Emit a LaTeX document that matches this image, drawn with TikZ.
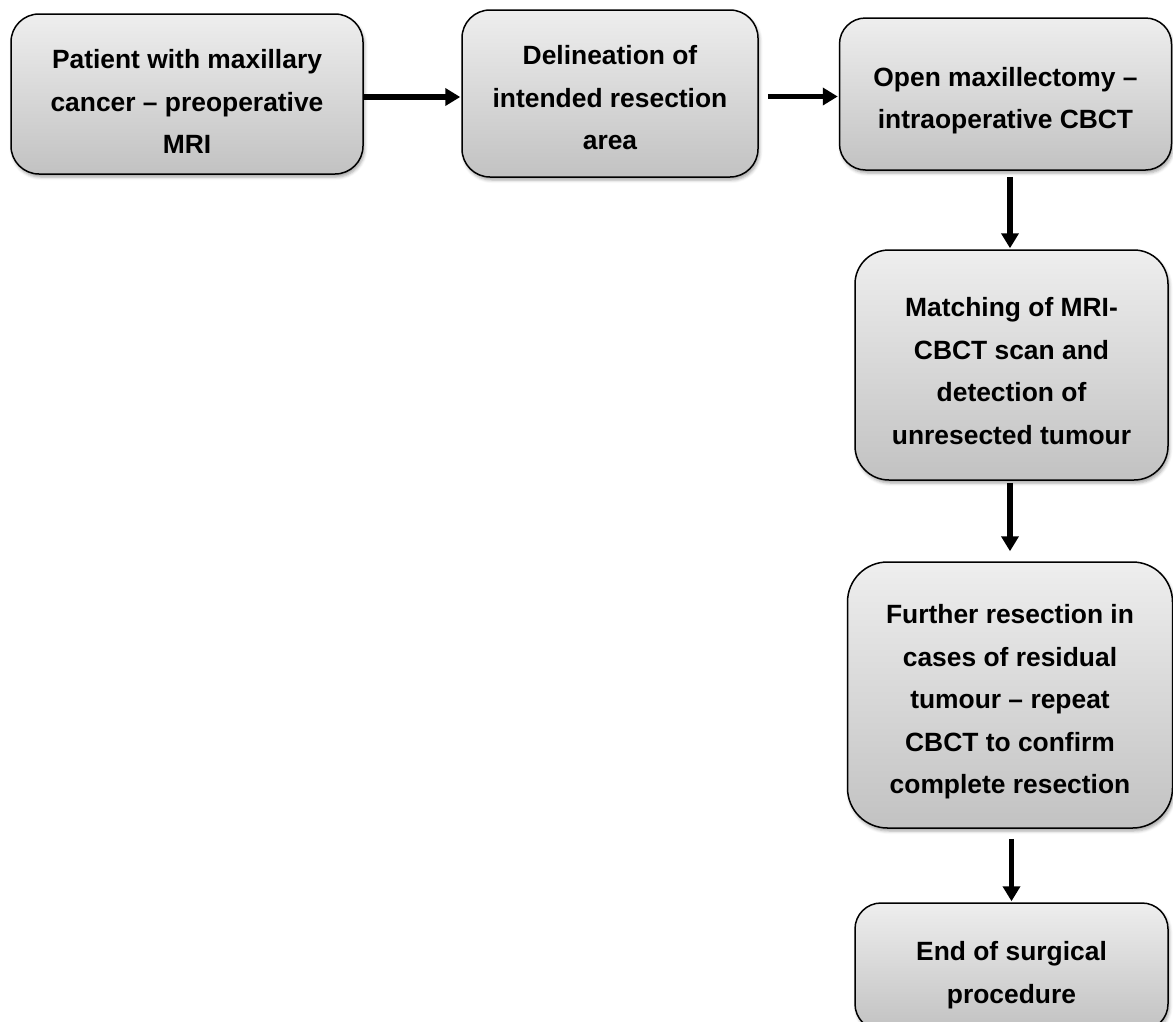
\documentclass[tikz,border=0pt]{standalone}
\usepackage{fontspec}
\setmainfont{Liberation Sans}
\usetikzlibrary{arrows.meta,shadows.blur}
\definecolor{topg}{RGB}{238,238,238}
\definecolor{botg}{RGB}{194,194,194}
\newcommand\tup[1]{\rule{0pt}{#1}}
\begin{document}
\begin{tikzpicture}[x=1pt,y=1pt,
  box/.style={draw=black, line width=1.5pt, top color=topg, bottom color=botg,
    align=center, inner sep=0pt,
    font=\fontsize{26.4}{42.5}\selectfont\bfseries,
    blur shadow={shadow xshift=1.5pt, shadow yshift=-3pt, shadow blur radius=3pt, shadow opacity=35}},
  arr/.style={line width=5.5pt, -{Triangle[length=15pt,width=17pt]}}
]
\useasboundingbox (0,0) rectangle (1173,-1021);

\node[box, rounded corners=28pt, minimum width=352pt, minimum height=160pt] (b1) at (187,-94)
  {\tup{34pt}Patient with maxillary\\cancer – preoperative\\MRI};
\node[box, rounded corners=28pt, minimum width=296pt, minimum height=167pt] (b2) at (610,-93.5)
  {\tup{28pt}Delineation of\\intended resection\\area};
\node[box, rounded corners=26pt, minimum width=332pt, minimum height=152pt] (b3) at (1005.5,-94)
  {\tup{32pt}Open maxillectomy –\\intraoperative CBCT};
\node[box, rounded corners=34pt, minimum width=313pt, minimum height=230pt] (b4) at (1011.5,-365)
  {\tup{31pt}Matching of MRI-\\CBCT scan and\\detection of\\unresected tumour};
\node[box, rounded corners=40pt, minimum width=325pt, minimum height=266pt] (b5) at (1010,-695)
  {\tup{33pt}Further resection in\\cases of residual\\tumour – repeat\\CBCT to confirm\\complete resection};
\node[box, rounded corners=26pt, minimum width=313pt, minimum height=127pt] (b6) at (1011.5,-966.5)
  {\tup{36pt}End of surgical\\procedure};

\draw[arr, shorten >=1pt] ([yshift=-3pt]b1.east) -- ([yshift=-3pt]b1.east -| b2.west);
\draw[arr, shorten <=9pt, shorten >=1pt] ([yshift=-3pt]b2.east) -- ([yshift=-3pt]b2.east -| b3.west);
\draw[arr, shorten <=6pt, shorten >=1pt] ([xshift=-1.5pt]b4.north |- b3.south) -- ([xshift=-1.5pt]b4.north);
\draw[arr, shorten <=2pt, shorten >=10pt] ([xshift=-1.5pt]b4.south) -- ([xshift=-1.5pt]b4.south |- b5.north);
\draw[arr, shorten <=10pt, shorten >=1pt] (b6.north |- b5.south) -- (b6.north);
\end{tikzpicture}
\end{document}
